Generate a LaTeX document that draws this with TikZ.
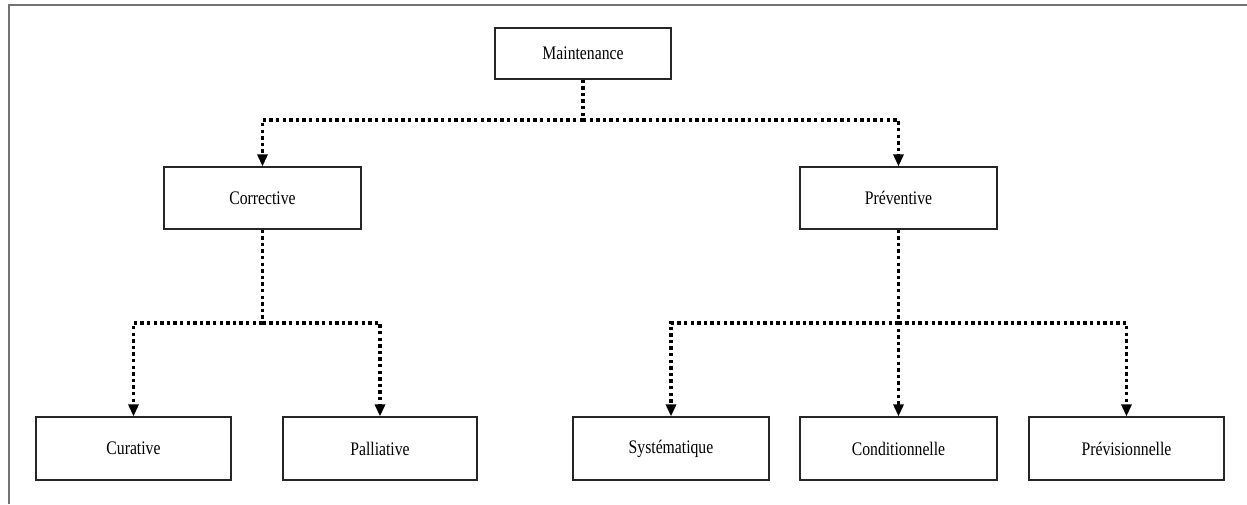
\documentclass[tikz,border=0pt]{standalone}
\usepackage{fontspec}
\usepackage{graphicx}
\setmainfont{Liberation Serif}
\usetikzlibrary{arrows.meta}
\newcommand{\tallText}[1]{\scalebox{1}[1.22]{#1}}
\begin{document}
\begin{tikzpicture}[x=1pt,y=-1pt,
  box/.style={draw=black!85, line width=1.2pt, fill=white, inner sep=0pt,
    font=\fontsize{15.7}{18}\selectfont},
  conn/.style={line width=3.4pt, dash pattern=on 3.4pt off 3.2pt},
  arr/.style={conn, -{Triangle[width=10pt,length=12pt]}},
  frame/.style={line width=2pt, draw=black!55}]
\useasboundingbox (0,0) rectangle (1247,504);
\draw[frame] (8.5,504) -- (8.5,5) -- (1247,5);
% nodes
\node[box, minimum width=176pt, minimum height=51pt] (maint) at (583,53.5) {\tallText{Maintenance}};
\node[box, minimum width=197pt, minimum height=62pt] (corr) at (262.5,198) {\tallText{Corrective}};
\node[box, minimum width=197pt, minimum height=62pt] (prev) at (898.5,198) {\tallText{Préventive}};
\node[box, minimum width=195pt, minimum height=63pt] (cur) at (133.5,448.5) {\tallText{Curative}};
\node[box, minimum width=194pt, minimum height=63pt] (pal) at (380,448.5) {\tallText{Palliative}};
\node[box, minimum width=196pt, minimum height=63pt] (sys) at (671,448.5) {\tallText{Systématique}};
\node[box, minimum width=197pt, minimum height=63pt] (cond) at (898.5,448.5) {\tallText{Conditionnelle}};
\node[box, minimum width=195pt, minimum height=63pt] (previs) at (1126.5,448.5) {\tallText{Prévisionnelle}};
% junctions
\coordinate (j1) at (583,120);
\coordinate (j2) at (262.5,323);
\coordinate (j3) at (898.5,323);
% connectors
\draw[conn] (maint.south) -- (j1);
\draw[arr] (j1) -| (corr.north);
\draw[arr] (j1) -| (prev.north);
\draw[conn] (corr.south) -- (j2);
\draw[arr] (j2) -| (cur.north);
\draw[arr] (j2) -| (pal.north);
\draw[arr] (prev.south) -- (cond.north);
\draw[arr] (j3) -| (sys.north);
\draw[arr] (j3) -| (previs.north);
\end{tikzpicture}
\end{document}
